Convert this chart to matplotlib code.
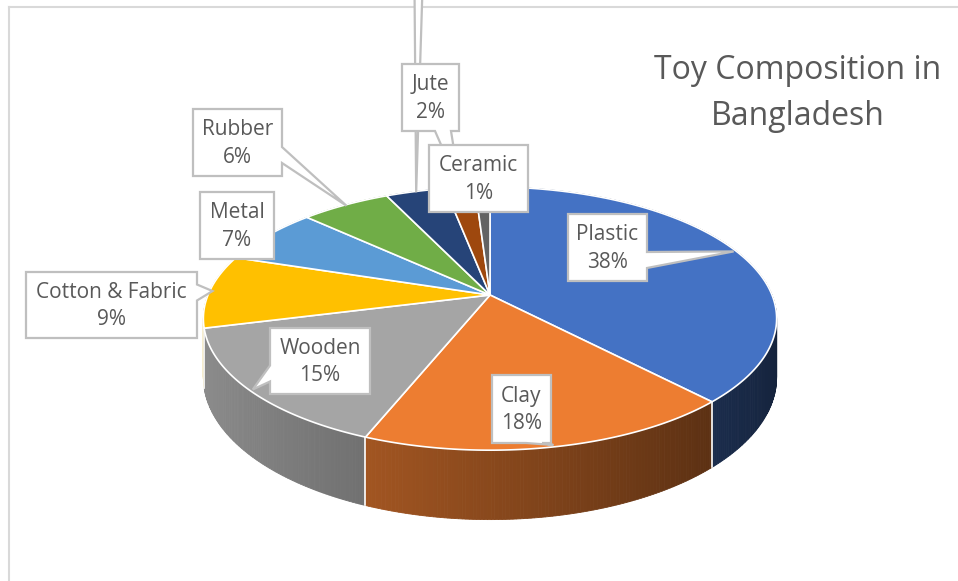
import numpy as np
import matplotlib.pyplot as plt
from matplotlib.patches import Polygon
from matplotlib.colors import to_rgb

plt.rcParams['font.family'] = ['Open Sans', 'DejaVu Sans']

# toy material shares (%), clockwise from 12 o'clock
categories = ['Plastic', 'Clay', 'Wooden', 'Cotton & Fabric', 'Metal', 'Rubber', 'Others', 'Jute', 'Ceramic']
shares = [38, 18, 15, 9, 7, 6, 4, 2, 1]
colors = ['#4472C4', '#ED7D31', '#A5A5A5', '#FFC000', '#5B9BD5', '#70AD47', '#264478', '#9E480E', '#636363']
title_lines = ['Toy Composition in', 'Bangladesh']

# callout boxes: centre x, centre y, width, height, side the pointer leaves from
boxes = {
    'Plastic': (607.5, 247.5, 79, 67, 'right'),
    'Clay': (521.5, 409, 59, 68, 'bottom'),
    'Wooden': (320, 361, 100, 66, 'left'),
    'Cotton & Fabric': (111.5, 305, 171, 66, 'right'),
    'Metal': (237, 225.5, 74, 67, 'right'),
    'Rubber': (237.5, 142.5, 89, 67, 'right'),
    'Others': (406, -45, 80, 67, 'bottom'),   # sits above the chart area
    'Jute': (430.5, 97.5, 57, 67, 'bottom'),
    'Ceramic': (478.5, 178.5, 99, 67, 'bottom'),
}

# tilted-pie projection (pixel space)
CX, CY = 490, 295
R, RC = 282, 127.4
P = 0.179
DEPTH = 57


def project(phi, r=1.0):
    u = r * np.sin(phi)
    v = -r * np.cos(phi)
    s = 1.0 / (1.0 - P * v)
    return CX + R * u * s, CY + RC * v * s, s


def shade(color, phi):
    f = np.clip(0.58 - 0.28 * np.sin(phi), 0.3, 0.95)
    return tuple(c * f for c in to_rgb(color))


def callout(ax, cx, cy, w, h, side, tip, text, half=8):
    x0, x1, y0, y1 = cx - w / 2, cx + w / 2, cy - h / 2, cy + h / 2
    off = 12.5
    tx, ty = tip
    inside = x0 <= tx <= x1 and y0 <= ty <= y1
    pts = [(x0, y0), (x1, y0)]
    if side == 'right' and not inside:
        c = cy + np.sign(ty - cy) * off
        pts += [(x1, c - half), (tx, ty), (x1, c + half)]
    pts += [(x1, y1)]
    if side == 'bottom' and not inside:
        c = cx + np.sign(tx - cx) * off
        pts += [(c + half, y1), (tx, ty), (c - half, y1)]
    pts += [(x0, y1)]
    if side == 'left' and not inside:
        c = cy + np.sign(ty - cy) * off
        pts += [(x0, c + half), (tx, ty), (x0, c - half)]
    ax.add_patch(Polygon(pts, closed=True, facecolor='white', edgecolor='#BFBFBF',
                         linewidth=1.6, joinstyle='miter', zorder=10))
    if text:
        ax.text(cx, cy + 1, text, ha='center', va='center', fontsize=15, color='#595959',
                linespacing=1.38, zorder=11)


fig = plt.figure(figsize=(9.58, 5.81), dpi=100)
ax = fig.add_axes([0, 0, 1, 1])
ax.set_xlim(0, 958)
ax.set_ylim(581, 0)
ax.axis('off')

# chart area border
ax.plot([9, 958], [7, 7], color='#D9D9D9', lw=1.5, zorder=1)
ax.plot([9, 9], [7, 581], color='#D9D9D9', lw=1.5, zorder=1)

total = float(sum(shares))
bounds = 2 * np.pi * np.concatenate([[0], np.cumsum(shares)]) / total

# side walls, drawn back to front
segs = []
for i, col in enumerate(colors):
    a = np.linspace(bounds[i], bounds[i + 1], max(4, int(shares[i] * 6)))
    for a0, a1 in zip(a[:-1], a[1:]):
        segs.append((-np.cos((a0 + a1) / 2), a0, a1, col))
segs.sort(key=lambda t: t[0])
for _, a0, a1, col in segs:
    xa, ya, sa = project(a0)
    xb, yb, sb = project(a1)
    quad = [(xa, ya), (xb, yb), (xb, yb + DEPTH * sb), (xa, ya + DEPTH * sa)]
    c = shade(col, (a0 + a1) / 2)
    ax.add_patch(Polygon(quad, closed=True, facecolor=c, edgecolor=c, lw=0.6, zorder=2))

# white seams on the front wall
for b in bounds[:-1]:
    if -np.cos(b) > 0:
        x, y, s = project(b)
        ax.plot([x, x], [y, y + DEPTH * s], color='white', lw=1.2, zorder=3)

# top faces
for i, col in enumerate(colors):
    a = np.linspace(bounds[i], bounds[i + 1], max(8, int(shares[i] * 8)))
    xs, ys, _ = project(a)
    pts = [(CX, CY)] + list(zip(xs, ys))
    ax.add_patch(Polygon(pts, closed=True, facecolor=col, edgecolor='white',
                         lw=1.2, joinstyle='round', zorder=4))

# data callouts
for i, name in enumerate(categories):
    mid = (bounds[i] + bounds[i + 1]) / 2
    tx, ty, _ = project(mid, 0.99)
    cx, cy, w, h, side = boxes[name]
    if name == 'Others':
        callout(ax, cx, cy, w, h, side, (tx, ty), None, half=4)
    else:
        callout(ax, cx, cy, w, h, side, (tx, ty), f'{name}\n{shares[i]}%')

# title
ax.text(798, 79, title_lines[0], ha='center', va='baseline', fontsize=23, color='#595959')
ax.text(798, 125, title_lines[1], ha='center', va='baseline', fontsize=23, color='#595959')

fig.savefig('out.png', dpi=100)
